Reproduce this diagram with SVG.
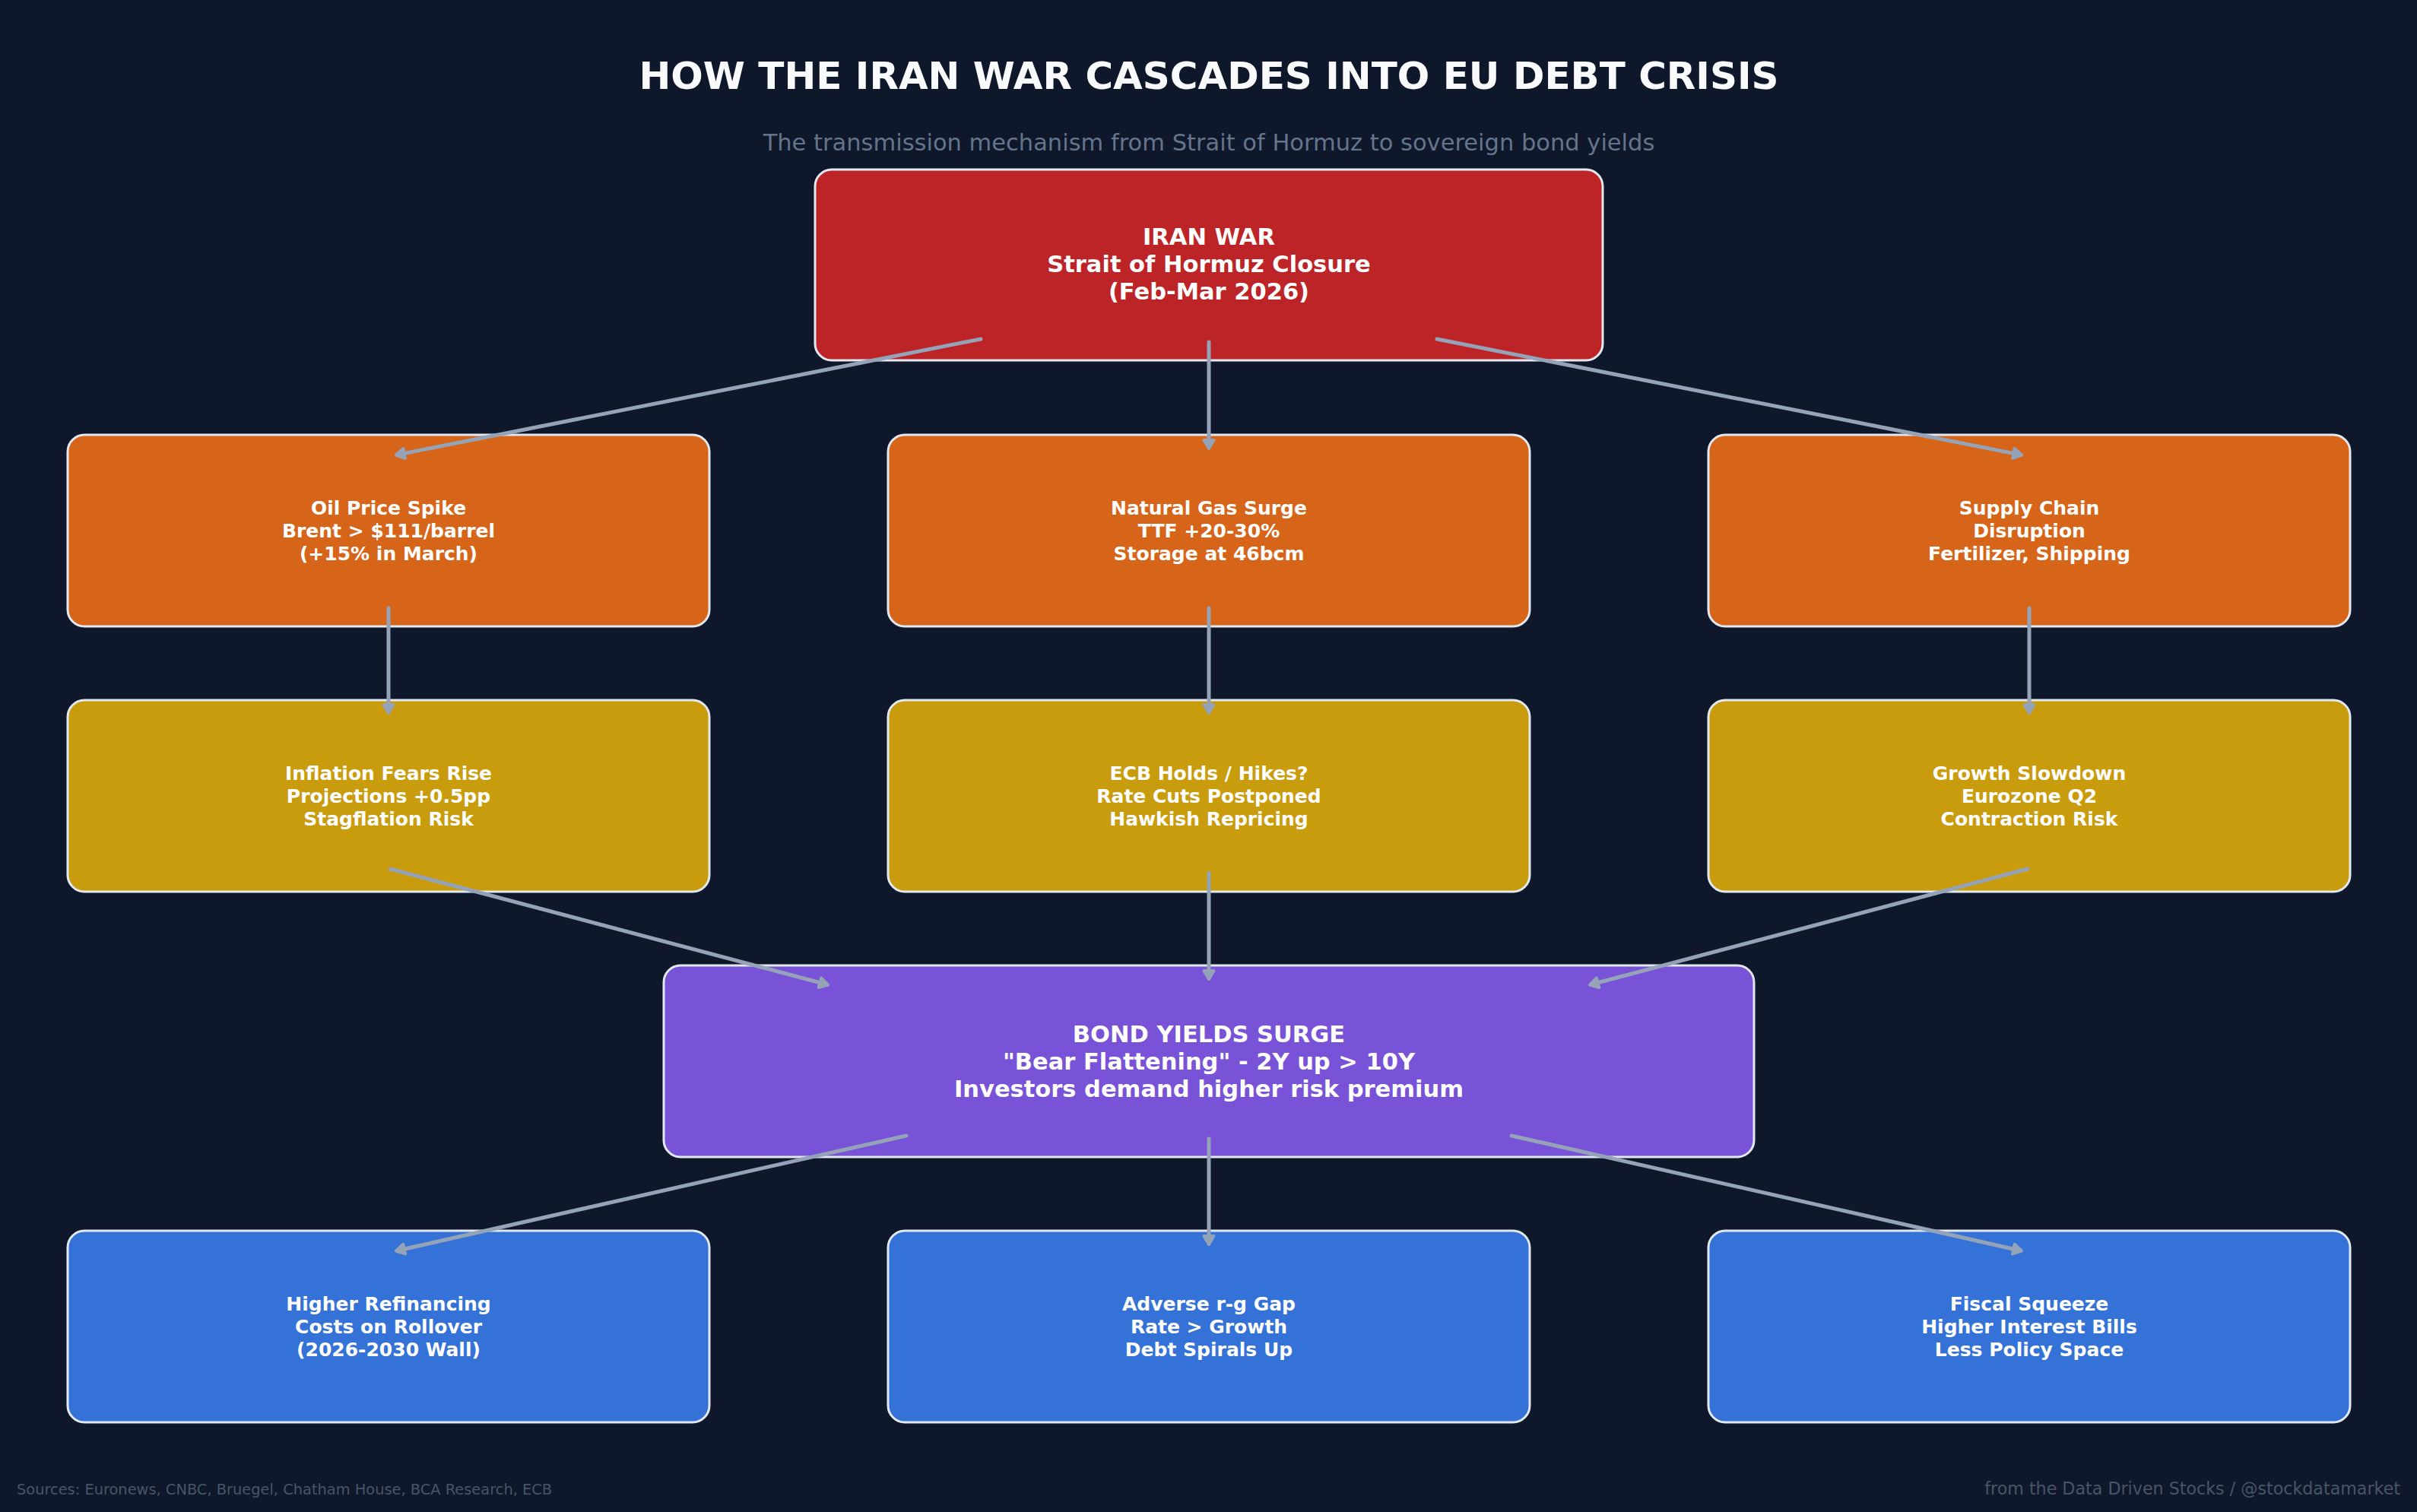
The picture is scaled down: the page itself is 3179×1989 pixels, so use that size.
<svg xmlns="http://www.w3.org/2000/svg" width="3179" height="1989" viewBox="0 0 3179 1989">
<style>
text{font-family:"DejaVu Sans","Liberation Sans",sans-serif;}
.title{font-size:50px;font-weight:bold;fill:#f8fafc;text-anchor:middle;}
.sub{font-size:30.5px;fill:#64748b;text-anchor:middle;}
.foot{font-size:19.4px;fill:#475569;}
.foot2{font-size:22.2px;fill:#475569;text-anchor:end;}
.box{stroke:#e2e8f0;stroke-width:3;}
.big{font-size:30.5px;font-weight:bold;fill:#ffffff;text-anchor:middle;}
.sm{font-size:25px;font-weight:bold;fill:#ffffff;text-anchor:middle;}
.red{fill:#bd2427;}
.org{fill:#d6651a;}
.gld{fill:#c99c0d;}
.pur{fill:#7852d7;}
.blu{fill:#3472d7;}
.arr{stroke:#94a3b8;stroke-width:5;stroke-linecap:round;fill:none;marker-end:url(#ah);}
</style>
<defs>
<marker id="ah" markerUnits="userSpaceOnUse" markerWidth="40" markerHeight="40" viewBox="-20 -20 40 40" refX="0" refY="0" orient="auto" overflow="visible">
<path d="M6,0 L-5,-6.5 L-5,6.5 Z" fill="#94a3b8" stroke="#94a3b8" stroke-width="4" stroke-linejoin="round"/>
</marker>
</defs>
<rect x="0" y="0" width="3179" height="1989" fill="#0f172a"/>
<text class="title" x="1590" y="117">HOW THE IRAN WAR CASCADES INTO EU DEBT CRISIS</text>
<text class="sub" x="1590" y="198">The transmission mechanism from Strait of Hormuz to sovereign bond yields</text>

<g id="node-iran">
<rect class="box red" x="1072" y="223" width="1036" height="251" rx="22"/>
<text class="big" x="1590" y="322">IRAN WAR</text>
<text class="big" x="1590" y="358">Strait of Hormuz Closure</text>
<text class="big" x="1590" y="394">(Feb-Mar 2026)</text>
</g>

<g id="node-oil">
<rect class="box org" x="89" y="572" width="844" height="252" rx="22"/>
<text class="sm" x="511" y="677">Oil Price Spike</text>
<text class="sm" x="511" y="707">Brent &gt; $111/barrel</text>
<text class="sm" x="511" y="737">(+15% in March)</text>
</g>
<g id="node-gas">
<rect class="box org" x="1168" y="572" width="844" height="252" rx="22"/>
<text class="sm" x="1590" y="677">Natural Gas Surge</text>
<text class="sm" x="1590" y="707">TTF +20-30%</text>
<text class="sm" x="1590" y="737">Storage at 46bcm</text>
</g>
<g id="node-supply">
<rect class="box org" x="2247" y="572" width="844" height="252" rx="22"/>
<text class="sm" x="2669" y="677">Supply Chain</text>
<text class="sm" x="2669" y="707">Disruption</text>
<text class="sm" x="2669" y="737">Fertilizer, Shipping</text>
</g>

<g id="node-inflation">
<rect class="box gld" x="89" y="921" width="844" height="252" rx="22"/>
<text class="sm" x="511" y="1026">Inflation Fears Rise</text>
<text class="sm" x="511" y="1056">Projections +0.5pp</text>
<text class="sm" x="511" y="1086">Stagflation Risk</text>
</g>
<g id="node-ecb">
<rect class="box gld" x="1168" y="921" width="844" height="252" rx="22"/>
<text class="sm" x="1590" y="1026">ECB Holds / Hikes?</text>
<text class="sm" x="1590" y="1056">Rate Cuts Postponed</text>
<text class="sm" x="1590" y="1086">Hawkish Repricing</text>
</g>
<g id="node-growth">
<rect class="box gld" x="2247" y="921" width="844" height="252" rx="22"/>
<text class="sm" x="2669" y="1026">Growth Slowdown</text>
<text class="sm" x="2669" y="1056">Eurozone Q2</text>
<text class="sm" x="2669" y="1086">Contraction Risk</text>
</g>

<g id="node-bond">
<rect class="box pur" x="873" y="1270" width="1434" height="252" rx="22"/>
<text class="big" x="1590" y="1371">BOND YIELDS SURGE</text>
<text class="big" x="1590" y="1407">"Bear Flattening" - 2Y up &gt; 10Y</text>
<text class="big" x="1590" y="1443">Investors demand higher risk premium</text>
</g>

<g id="node-refi">
<rect class="box blu" x="89" y="1619" width="844" height="252" rx="22"/>
<text class="sm" x="511" y="1724">Higher Refinancing</text>
<text class="sm" x="511" y="1754">Costs on Rollover</text>
<text class="sm" x="511" y="1784">(2026-2030 Wall)</text>
</g>
<g id="node-rg">
<rect class="box blu" x="1168" y="1619" width="844" height="252" rx="22"/>
<text class="sm" x="1590" y="1724">Adverse r-g Gap</text>
<text class="sm" x="1590" y="1754">Rate &gt; Growth</text>
<text class="sm" x="1590" y="1784">Debt Spirals Up</text>
</g>
<g id="node-fiscal">
<rect class="box blu" x="2247" y="1619" width="844" height="252" rx="22"/>
<text class="sm" x="2669" y="1724">Fiscal Squeeze</text>
<text class="sm" x="2669" y="1754">Higher Interest Bills</text>
<text class="sm" x="2669" y="1784">Less Policy Space</text>
</g>

<g id="connectors">
<path class="arr" d="M1290,446 L526.8,597.4"/>
<path class="arr" d="M1590,450 L1590,584"/>
<path class="arr" d="M1890,446 L2653.2,597.4"/>
<path class="arr" d="M511,800 L511,932"/>
<path class="arr" d="M1590,800 L1590,932"/>
<path class="arr" d="M2669,800 L2669,932"/>
<path class="arr" d="M513,1143 L1083.3,1294"/>
<path class="arr" d="M1590,1148 L1590,1282"/>
<path class="arr" d="M2667,1143 L2096.7,1294"/>
<path class="arr" d="M1192,1494 L526.8,1644.2"/>
<path class="arr" d="M1590,1498 L1590,1631"/>
<path class="arr" d="M1988,1494 L2653.2,1644.2"/>
</g>

<text class="foot" x="22" y="1966">Sources: Euronews, CNBC, Bruegel, Chatham House, BCA Research, ECB</text>
<text class="foot2" x="3157" y="1966">from the Data Driven Stocks / @stockdatamarket</text>
</svg>
